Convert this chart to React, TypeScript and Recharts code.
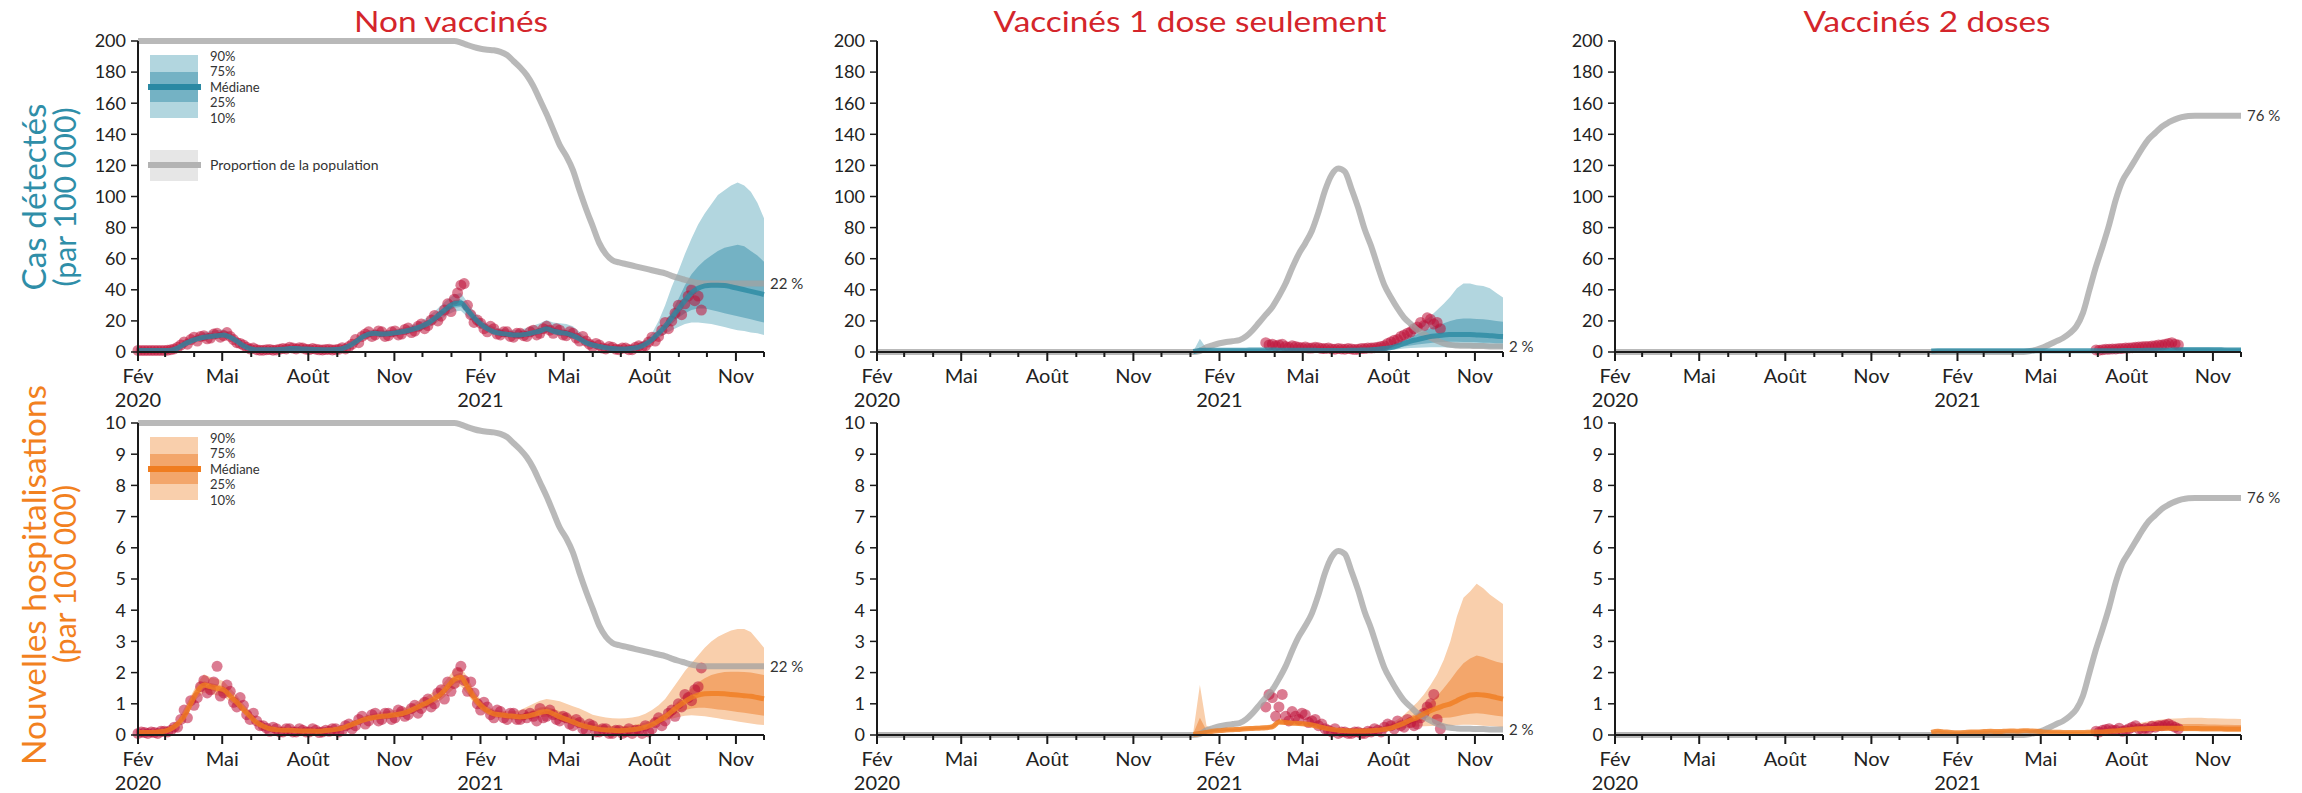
import React from 'react';
import { ComposedChart, Area, Line, Scatter, XAxis, YAxis, LabelList } from 'recharts';

// ---------- categories / axes ----------
const WEEKS = 96; // weekly samples from 1 Feb 2020 to 30 Nov 2021
const LAST_DAY = 669; // days since 1 Feb 2020
const MINOR_TICK_DAYS = [29, 60, 121, 151, 213, 243, 304, 335, 394, 425, 486, 516, 578, 608, 669];
const MONTH_TICK_DAYS = [0, 90, 182, 274, 366, 455, 547, 639];
const MONTH_TICK_LABELS = ['Fév', 'Mai', 'Août', 'Nov', 'Fév', 'Mai', 'Août', 'Nov'];
const YEAR_TICK_DAYS = [0, 366];
const YEAR_TICK_LABELS = ['2020', '2021'];
const CASES_TICKS = [0, 20, 40, 60, 80, 100, 120, 140, 160, 180, 200];
const HOSP_TICKS = [0, 1, 2, 3, 4, 5, 6, 7, 8, 9, 10];
const COLUMN_TITLES = ['Non vaccinés', 'Vaccinés 1 dose seulement', 'Vaccinés 2 doses'];
const POP_LABELS = ['22 %', '2 %', '76 %'];

// ---------- proportion of population (%) ----------
const POP_NON_VAX = [
  100, 100, 100, 100, 100, 100, 100, 100, 100, 100,
  100, 100, 100, 100, 100, 100, 100, 100, 100, 100,
  100, 100, 100, 100, 100, 100, 100, 100, 100, 100,
  100, 100, 100, 100, 100, 100, 100, 100, 100, 100,
  100, 100, 100, 100, 100, 100, 100, 100, 100,
  99.5, 98.7, 98, 97.5, 97.2, 97,
  96.5, 95.5, 93.5, 91.5, 89, 85.5,
  81, 76.5, 71.5, 66.5, 63, 58.5,
  52, 46, 40.5, 35, 31.5, 29.5,
  28.8, 28.3, 27.8, 27.3, 26.8, 26.3,
  25.8, 25.3, 24.5, 23.8, 23.2, 22.6,
  22.2, 22, 22, 22, 22, 22, 22, 22, 22, 22, 22,
];
const POP_DOSE1 = [
  0, 0, 0, 0, 0, 0, 0, 0, 0, 0,
  0, 0, 0, 0, 0, 0, 0, 0, 0, 0,
  0, 0, 0, 0, 0, 0, 0, 0, 0, 0,
  0, 0, 0, 0, 0, 0, 0, 0, 0, 0,
  0, 0, 0, 0, 0, 0, 0, 0, 0,
  0.3, 1.5, 2.2, 2.8, 3.2, 3.5,
  3.8, 5, 7, 9.5, 12, 14.5,
  18, 22, 27, 31.5, 35, 39,
  45, 52, 57, 59, 58, 52.5,
  46.5, 39.5, 34, 27.5, 21.5, 17.5,
  14, 11, 9, 7, 5.8, 4.6,
  3.6, 2.8, 2.3, 2.1, 2, 2, 1.9, 1.9, 1.8, 1.8, 1.8,
];
const POP_DOSE2 = [
  0, 0, 0, 0, 0, 0, 0, 0, 0, 0,
  0, 0, 0, 0, 0, 0, 0, 0, 0, 0,
  0, 0, 0, 0, 0, 0, 0, 0, 0, 0,
  0, 0, 0, 0, 0, 0, 0, 0, 0, 0,
  0, 0, 0, 0, 0, 0, 0, 0, 0, 0,
  0, 0, 0, 0, 0, 0, 0, 0, 0, 0,
  0, 0, 0,
  0.3, 0.8, 1.5, 2.5, 3.5, 4.5, 6, 8.2, 12.5, 20, 27.5, 34, 41, 49, 55, 58.5,
  62, 65.5, 68.5, 70.5, 72.5, 73.8, 74.8, 75.5, 75.9,
  76, 76, 76, 76, 76, 76, 76, 76,
];

// ---------- Non vaccinés : cas détectés (per 100 000) ----------
const NV_CASES_MED = [
  1, 1, 1, 1, 1, 1.2, 2.5, 5, 7, 8.5, 9.5, 10, 10.5, 11, 9.5, 7, 4, 2.2,
  1.5, 1.4, 1.4, 1.5, 1.8, 2.2, 2.3, 2, 1.8, 1.6, 1.5, 1.5, 1.6, 2.2, 3.8, 6.5, 9.5, 11.5,
  12, 11.5, 11.8, 12.3, 13, 13.8, 15, 16.5, 18.5, 21.5, 25, 28.5, 31, 31.5, 27, 22, 18, 15,
  13, 12, 11.5, 11, 11, 11.5, 12.5, 13.5, 15, 13.5, 12.5, 12, 10.5, 8.5, 6, 4.5, 3.5, 2.7,
  2.2, 2, 2, 2.4, 3.2, 5, 8, 12, 16.5, 22, 27.5, 33, 38, 41, 42.5, 43, 43, 42.8,
  42, 41, 40, 39, 38, 37,
];
const NV_CASES_P90 = [
  1.5, 1.5, 1.5, 1.5, 1.5, 2, 3.5, 7, 9.5, 11, 12.5, 13.5, 14, 14.5, 12.5, 9, 5.5, 3,
  2.2, 2, 2, 2.2, 2.5, 3, 3, 2.8, 2.5, 2.2, 2, 2, 2.2, 3, 5, 8.5, 12, 14,
  14.5, 14, 14, 14.5, 15.5, 16.5, 18, 20, 22.5, 26, 30, 34, 37, 38, 32, 26, 21.5, 18,
  16, 15, 14.5, 14, 14.5, 15.5, 17, 18.5, 20.5, 19, 18.5, 18, 16.5, 13, 9, 6.5, 5, 4,
  3.5, 3.2, 3.5, 4.2, 5.5, 8, 12, 20, 30, 42, 52, 63, 73, 82, 89, 95, 101, 104,
  107, 109, 107, 103, 96, 86,
];
const NV_CASES_P75 = [
  1.2, 1.2, 1.2, 1.2, 1.2, 1.4, 2.9, 5.7, 7.8, 9.3, 10.4, 11, 11.5, 12, 10.5, 7.7, 4.5, 2.5,
  1.7, 1.6, 1.6, 1.7, 2, 2.5, 2.6, 2.2, 2, 1.8, 1.7, 1.7, 1.8, 2.5, 4.2, 7.2, 10.4, 12.5,
  13, 12.5, 12.8, 13.3, 14, 15, 16.3, 18, 20, 23.5, 27, 31, 33.5, 34, 29.5, 24, 19.7, 16.5,
  14.2, 13, 12.5, 12, 12, 12.7, 14, 15.3, 17, 15.5, 14.5, 14, 12.5, 10, 7.2, 5.3, 4.2, 3.3,
  2.7, 2.5, 2.5, 3, 4, 6, 9.2, 13.5, 19, 26, 34, 43, 50, 55, 59, 62, 65, 67,
  68, 69, 68, 65, 62, 58,
];
const NV_CASES_P25 = [
  0.8, 0.8, 0.8, 0.8, 0.8, 1, 2.1, 4.3, 6.2, 7.7, 8.6, 9, 9.5, 10, 8.5, 6.3, 3.5, 1.9,
  1.3, 1.2, 1.2, 1.3, 1.6, 1.9, 2, 1.8, 1.6, 1.4, 1.3, 1.3, 1.4, 1.9, 3.4, 5.8, 8.6, 10.5,
  11, 10.5, 10.8, 11.3, 12, 12.6, 13.7, 15, 17, 19.5, 23, 26, 28.5, 29, 24.5, 20, 16.5, 13.8,
  12, 11, 10.5, 10, 10, 10.5, 11.3, 12.2, 13.5, 12.2, 11.3, 10.8, 9.5, 7.6, 5.3, 4, 3.1, 2.4,
  1.9, 1.7, 1.7, 2.1, 2.8, 4.5, 7, 10.5, 14, 18, 22, 25, 27, 28, 28, 27, 26, 25,
  24, 23, 22, 21, 20, 19,
];
const NV_CASES_P10 = [
  0.6, 0.6, 0.6, 0.6, 0.6, 0.8, 1.8, 3.8, 5.5, 7, 7.9, 8.3, 8.8, 9.3, 7.9, 5.8, 3.2, 1.7,
  1.1, 1, 1, 1.1, 1.4, 1.7, 1.8, 1.6, 1.4, 1.2, 1.1, 1.1, 1.2, 1.7, 3, 5.3, 7.9, 9.7,
  10.2, 9.7, 10, 10.4, 11, 11.6, 12.6, 13.8, 15.5, 18, 21, 24, 26, 26.5, 22.5, 18.5, 15.2, 12.7,
  11, 10, 9.7, 9.2, 9.2, 9.7, 10.5, 11.3, 12.5, 11.3, 10.5, 10, 8.8, 7, 4.9, 3.7, 2.8, 2.2,
  1.8, 1.6, 1.6, 1.9, 2.5, 4, 6, 9, 11.5, 14, 16, 18, 19, 19, 18.5, 18, 17, 16,
  15, 14, 13.5, 12.5, 12, 11,
];
const NV_CASES_OBS_A = [
  1, 1, 1, 1, 1, 1.5, 3, 6.5, 8, 7, 10.5, 9, 12, 10.5, 10, 6, 4.5, 2,
  1.5, 1.2, 1.6, 1.3, 2.3, 3, 2, 2.5, 1.6, 1.8, 1.3, 1.7, 1.5, 2.8, 3.5, 8, 10, 13,
  11, 13, 10.5, 13.5, 11.5, 15.5, 13.5, 18, 17, 23.5, 23, 31, 34, 43, 30, 19, 18.5, 13,
  15, 11, 13, 9.5, 12, 10, 14, 12, 16.5, 12, 14, 10.5, 12, 7, 7, 3.5, 4.5, 2,
  3, 1.5, 2.5, 1.5, 4, 4, 9.5, 10, 19, 20, 30, 31, 40, 36,
];
const NV_CASES_OBS_B = [
  1, 1, 1, 1, 1.2, 2, 4.5, 5, 9.5, 10, 8.5, 11.5, 9.5, 12.5, 8, 5.5, 3, 2.5,
  1.2, 1.5, 1.2, 1.8, 2, 2.5, 2.8, 1.8, 2.2, 1.4, 1.6, 1.3, 1.8, 2, 5, 6, 11.5, 10,
  13.5, 10, 13, 11, 14.5, 12.5, 16.5, 15, 20.5, 20, 27, 26, 38, 44, 24, 20.5, 15, 16.5,
  11.5, 13, 10, 12, 10.5, 13, 11, 15, 14, 15, 11, 13, 9, 10, 5, 5.5, 2.5, 3.5,
  1.8, 2.5, 1.5, 3, 3, 6.5, 7, 14, 15, 25, 24, 36, 33, 27,
];

// ---------- Non vaccinés : nouvelles hospitalisations ----------
const NV_HOSP_MED = [
  0.08, 0.08, 0.08, 0.1, 0.12, 0.2, 0.35, 0.6, 1.0, 1.4, 1.6, 1.55, 1.5, 1.45, 1.25, 1.05, 0.82, 0.6,
  0.4, 0.28, 0.2, 0.17, 0.15, 0.15, 0.14, 0.13, 0.13, 0.12, 0.13, 0.15, 0.18, 0.22, 0.3, 0.38, 0.47, 0.53,
  0.57, 0.6, 0.62, 0.65, 0.68, 0.75, 0.85, 0.95, 1.05, 1.17, 1.32, 1.55, 1.78, 1.85, 1.55, 1.2, 0.95, 0.78,
  0.68, 0.65, 0.62, 0.6, 0.58, 0.6, 0.65, 0.72, 0.75, 0.68, 0.58, 0.5, 0.42, 0.33, 0.27, 0.22, 0.18, 0.16,
  0.15, 0.14, 0.15, 0.17, 0.2, 0.25, 0.33, 0.45, 0.58, 0.75, 0.92, 1.07, 1.2, 1.28, 1.32, 1.33, 1.33, 1.32,
  1.3, 1.28, 1.26, 1.24, 1.2, 1.16,
];
const NV_HOSP_P90 = [
  0.12, 0.12, 0.12, 0.14, 0.17, 0.28, 0.45, 0.85, 1.25, 1.65, 1.95, 1.85, 1.8, 1.72, 1.5, 1.27, 1, 0.75,
  0.5, 0.35, 0.27, 0.23, 0.2, 0.2, 0.19, 0.18, 0.18, 0.17, 0.18, 0.2, 0.24, 0.29, 0.38, 0.48, 0.58, 0.66,
  0.7, 0.74, 0.77, 0.8, 0.84, 0.92, 1.03, 1.15, 1.26, 1.4, 1.57, 1.83, 2.1, 2.18, 1.85, 1.43, 1.13, 0.93,
  0.82, 0.78, 0.76, 0.76, 0.8, 0.9, 1.0, 1.1, 1.15, 1.12, 1.08, 1.0, 0.92, 0.85, 0.75, 0.65, 0.6, 0.56,
  0.54, 0.53, 0.54, 0.56, 0.6, 0.68, 0.8, 0.95, 1.15, 1.45, 1.75, 2.05, 2.3, 2.55, 2.8, 3.0, 3.15, 3.25,
  3.35, 3.4, 3.4, 3.3, 3.05, 2.8,
];
const NV_HOSP_P75 = [
  0.1, 0.1, 0.1, 0.12, 0.14, 0.23, 0.39, 0.66, 1.1, 1.5, 1.72, 1.67, 1.62, 1.56, 1.35, 1.14, 0.9, 0.66,
  0.44, 0.31, 0.23, 0.19, 0.17, 0.17, 0.16, 0.15, 0.15, 0.14, 0.15, 0.17, 0.2, 0.25, 0.33, 0.42, 0.52, 0.58,
  0.62, 0.65, 0.68, 0.71, 0.74, 0.81, 0.92, 1.03, 1.13, 1.26, 1.42, 1.67, 1.92, 2.0, 1.67, 1.3, 1.03, 0.85,
  0.74, 0.71, 0.68, 0.66, 0.66, 0.72, 0.8, 0.88, 0.9, 0.84, 0.76, 0.68, 0.6, 0.5, 0.43, 0.37, 0.33, 0.3,
  0.29, 0.28, 0.29, 0.31, 0.35, 0.4, 0.5, 0.6, 0.7, 0.9, 1.1, 1.3, 1.5, 1.68, 1.82, 1.92, 1.98, 2.02,
  2.03, 2.03, 2.02, 2.0, 1.96, 1.92,
];
const NV_HOSP_P25 = [
  0.06, 0.06, 0.06, 0.08, 0.1, 0.17, 0.31, 0.54, 0.92, 1.28, 1.47, 1.43, 1.38, 1.33, 1.15, 0.96, 0.75, 0.55,
  0.36, 0.25, 0.18, 0.15, 0.13, 0.13, 0.12, 0.11, 0.11, 0.1, 0.11, 0.13, 0.16, 0.2, 0.27, 0.34, 0.43, 0.49,
  0.52, 0.55, 0.57, 0.6, 0.62, 0.69, 0.78, 0.87, 0.97, 1.08, 1.22, 1.43, 1.64, 1.7, 1.43, 1.1, 0.87, 0.71,
  0.62, 0.59, 0.56, 0.54, 0.52, 0.54, 0.58, 0.64, 0.66, 0.6, 0.51, 0.44, 0.37, 0.29, 0.23, 0.19, 0.15, 0.13,
  0.12, 0.11, 0.12, 0.14, 0.17, 0.21, 0.28, 0.38, 0.5, 0.62, 0.72, 0.8, 0.85, 0.87, 0.87, 0.85, 0.82, 0.8,
  0.77, 0.74, 0.71, 0.68, 0.65, 0.62,
];
const NV_HOSP_P10 = [
  0.05, 0.05, 0.05, 0.07, 0.09, 0.15, 0.28, 0.5, 0.85, 1.18, 1.36, 1.32, 1.27, 1.23, 1.06, 0.89, 0.7, 0.5,
  0.33, 0.23, 0.16, 0.13, 0.12, 0.12, 0.11, 0.1, 0.1, 0.09, 0.1, 0.12, 0.14, 0.18, 0.25, 0.31, 0.39, 0.45,
  0.48, 0.5, 0.52, 0.55, 0.57, 0.63, 0.72, 0.8, 0.89, 0.99, 1.12, 1.31, 1.5, 1.56, 1.31, 1.01, 0.8, 0.65,
  0.57, 0.54, 0.51, 0.49, 0.47, 0.49, 0.52, 0.57, 0.59, 0.53, 0.45, 0.38, 0.31, 0.23, 0.18, 0.14, 0.11, 0.1,
  0.09, 0.08, 0.09, 0.11, 0.14, 0.18, 0.25, 0.34, 0.45, 0.52, 0.58, 0.62, 0.63, 0.62, 0.6, 0.57, 0.54, 0.5,
  0.47, 0.43, 0.4, 0.37, 0.34, 0.32,
];
const NV_HOSP_OBS_A = [
  0.05, 0.08, 0.1, 0.05, 0.12, 0.15, 0.25, 0.8, 1.1, 1.2, 1.75, 1.45, 2.2, 1.35, 1.4, 0.9, 0.95, 0.5,
  0.45, 0.3, 0.12, 0.2, 0.1, 0.2, 0.1, 0.15, 0.1, 0.15, 0.1, 0.12, 0.2, 0.15, 0.35, 0.3, 0.6, 0.45,
  0.7, 0.5, 0.7, 0.55, 0.75, 0.65, 0.95, 0.85, 1.15, 1.0, 1.45, 1.7, 1.65, 2.2, 1.4, 1.35, 0.8, 0.9,
  0.55, 0.75, 0.5, 0.7, 0.5, 0.55, 0.6, 0.85, 0.6, 0.65, 0.45, 0.55, 0.3, 0.4, 0.15, 0.3, 0.1, 0.2,
  0.05, 0.15, 0.1, 0.05, 0.15, 0.3, 0.2, 0.55, 0.45, 0.8, 1.0, 1.3, 1.1, 1.55,
];
const NV_HOSP_OBS_B = [
  0.1, 0.05, 0.08, 0.12, 0.1, 0.25, 0.5, 0.55, 0.95, 1.55, 1.35, 1.7, 1.25, 1.6, 1.05, 1.2, 0.65, 0.7,
  0.3, 0.22, 0.25, 0.1, 0.2, 0.1, 0.2, 0.1, 0.2, 0.08, 0.15, 0.2, 0.1, 0.3, 0.2, 0.5, 0.35, 0.65,
  0.45, 0.7, 0.5, 0.8, 0.6, 0.85, 0.7, 1.05, 0.9, 1.35, 1.15, 1.4, 2.0, 1.75, 1.7, 1.0, 1.05, 0.65,
  0.8, 0.55, 0.7, 0.5, 0.65, 0.7, 0.45, 0.55, 0.8, 0.5, 0.6, 0.35, 0.5, 0.2, 0.35, 0.1, 0.2, 0.05,
  0.15, 0.05, 0.2, 0.15, 0.05, 0.1, 0.4, 0.3, 0.7, 0.6, 0.9, 1.2, 1.45, 2.15,
];

// ---------- Vaccinés 1 dose : cas (model from week 48) ----------
const V1_CASES_MED = [
  0.3, 1, 1.2, 1.2, 1.1, 1.1, 1.1, 1.2, 1.2, 1.3, 1.3, 1.3, 1.3, 1.2, 1.2, 1.2, 1.1, 1.1, 1.1, 1,
  1, 1, 1, 1, 1.1, 1.2, 1.3, 1.5, 1.8, 2.2, 2.8, 4, 5.5, 7, 8, 9, 10, 10.5, 11, 11.2,
  11.3, 11.3, 11.2, 11, 10.8, 10.5, 10.2, 10,
];
const V1_CASES_P90 = [
  0.5, 8.5, 2.2, 1.8, 1.8, 1.8, 1.9, 1.9, 2, 2, 2, 2, 1.9, 1.9, 1.8, 1.8, 1.8, 1.7, 1.7, 1.7,
  1.7, 1.7, 1.7, 1.7, 1.8, 1.9, 2.1, 2.4, 3, 3.8, 5, 7, 9, 12, 17, 20, 23, 27, 31, 35.5,
  41, 44, 44, 43, 42.5, 41, 38, 35,
];
const V1_CASES_P75 = [
  0.4, 3, 1.6, 1.5, 1.5, 1.5, 1.5, 1.5, 1.6, 1.6, 1.6, 1.6, 1.6, 1.5, 1.5, 1.5, 1.4, 1.4, 1.4, 1.4,
  1.3, 1.3, 1.3, 1.3, 1.4, 1.5, 1.6, 1.9, 2.3, 2.8, 3.8, 5.5, 7.5, 9.5, 11.5, 13.5, 15.5, 17, 18.5, 20,
  21, 21.5, 21.5, 21.3, 21, 20.5, 20, 19.5,
];
const V1_CASES_P25 = [
  0.2, 0.6, 0.9, 0.9, 0.9, 0.9, 0.9, 0.9, 0.9, 0.9, 0.9, 0.9, 0.9, 0.9, 0.9, 0.9, 0.8, 0.8, 0.8, 0.8,
  0.8, 0.8, 0.8, 0.8, 0.8, 0.9, 0.9, 1, 1.2, 1.5, 2, 2.8, 3.5, 4.2, 4.8, 5.3, 5.8, 6.2, 6.5, 6.6,
  6.6, 6.5, 6.4, 6.2, 6, 5.9, 5.7, 5.6,
];
const V1_CASES_P10 = [
  0.1, 0.4, 0.6, 0.6, 0.6, 0.6, 0.6, 0.6, 0.6, 0.6, 0.6, 0.6, 0.6, 0.6, 0.6, 0.6, 0.5, 0.5, 0.5, 0.5,
  0.5, 0.5, 0.5, 0.5, 0.5, 0.6, 0.6, 0.7, 0.8, 1, 1.4, 1.8, 2.2, 2.5, 2.7, 2.9, 3, 3, 3, 2.9,
  2.8, 2.7, 2.6, 2.5, 2.4, 2.3, 2.2, 2.1,
];
const V1_CASES_OBS_A = [
  6, 5, 4.5, 3.5, 4, 3, 3.2, 2.5, 2.8, 2.2, 2, 2.2, 1.8, 2, 1.8, 2.2, 2.5, 3, 4, 6.5,
  8, 11, 13, 16, 17, 21, 19,
];
const V1_CASES_OBS_B = [
  4.5, 4, 5, 3, 3.5, 2.8, 2.5, 3, 2.2, 2.5, 1.8, 2, 2.2, 1.6, 2.3, 2.6, 2.8, 3.6, 5.5, 7.5,
  10, 12, 15, 19, 22, 18, 15,
];

// ---------- Vaccinés 1 dose : hospitalisations ----------
const V1_HOSP_MED = [
  0.02, 0.05, 0.08, 0.12, 0.14, 0.16, 0.17, 0.18, 0.2, 0.21, 0.22, 0.23,
  0.26, 0.42, 0.4, 0.38, 0.37, 0.35, 0.32, 0.27, 0.22, 0.18,
  0.15, 0.14, 0.13, 0.13, 0.13, 0.14, 0.15, 0.18, 0.22, 0.3,
  0.38, 0.48, 0.56, 0.68, 0.78, 0.86, 0.94, 1.0, 1.1, 1.2,
  1.28, 1.3, 1.28, 1.25, 1.2, 1.15,
];
const V1_HOSP_P90 = [
  0.1, 1.6, 0.3, 0.2, 0.22, 0.24, 0.25, 0.26, 0.28, 0.29, 0.3, 0.31,
  0.35, 0.52, 0.5, 0.48, 0.46, 0.43, 0.4, 0.35, 0.3, 0.25,
  0.22, 0.2, 0.2, 0.2, 0.2, 0.22, 0.25, 0.3, 0.38, 0.5,
  0.65, 0.85, 1.05, 1.3, 1.6, 1.95, 2.4, 3.0, 3.8, 4.4,
  4.6, 4.85, 4.7, 4.5, 4.35, 4.2,
];
const V1_HOSP_P75 = [
  0.05, 0.55, 0.15, 0.15, 0.17, 0.19, 0.2, 0.21, 0.23, 0.24, 0.25, 0.26,
  0.3, 0.46, 0.44, 0.42, 0.41, 0.39, 0.36, 0.31, 0.26, 0.21,
  0.18, 0.17, 0.16, 0.16, 0.16, 0.17, 0.19, 0.23, 0.28, 0.38,
  0.48, 0.6, 0.72, 0.88, 1.05, 1.25, 1.5, 1.76, 2.05, 2.3,
  2.45, 2.55, 2.5, 2.42, 2.35, 2.3,
];
const V1_HOSP_P25 = [
  0, 0.02, 0.06, 0.1, 0.12, 0.13, 0.14, 0.15, 0.17, 0.18, 0.19, 0.2,
  0.22, 0.37, 0.35, 0.34, 0.33, 0.31, 0.28, 0.23, 0.19, 0.15,
  0.12, 0.11, 0.11, 0.11, 0.11, 0.12, 0.13, 0.15, 0.18, 0.24,
  0.3, 0.37, 0.42, 0.47, 0.5, 0.52, 0.55, 0.56, 0.6, 0.65,
  0.68, 0.7, 0.68, 0.65, 0.62, 0.59,
];
const V1_HOSP_P10 = [
  0, 0.01, 0.05, 0.08, 0.1, 0.11, 0.12, 0.13, 0.15, 0.16, 0.17, 0.18,
  0.2, 0.34, 0.32, 0.31, 0.3, 0.28, 0.25, 0.21, 0.17, 0.13,
  0.11, 0.1, 0.1, 0.1, 0.1, 0.1, 0.11, 0.13, 0.15, 0.19,
  0.22, 0.25, 0.27, 0.28, 0.29, 0.3, 0.3, 0.3, 0.32, 0.33,
  0.33, 0.32, 0.3, 0.29, 0.27, 0.25,
];
const V1_HOSP_OBS_A = [
  0.9, 1.2, 0.9, 0.6, 0.75, 0.5, 0.65, 0.45, 0.3, 0.2, 0.1, 0.05, 0.1, 0.05, 0.1, 0.05, 0.1, 0.15, 0.25, 0.3,
  0.45, 0.25, 0.4, 0.35, 0.7, 1.0, 0.5,
];
const V1_HOSP_OBS_B = [
  1.3, 0.6, 1.3, 0.45, 0.6, 0.7, 0.4, 0.5, 0.35, 0.15, 0.2, 0.1, 0.05, 0.1, 0.05, 0.12, 0.2, 0.1, 0.35, 0.2,
  0.3, 0.5, 0.3, 0.55, 0.9, 1.3, 0.2,
];

// ---------- Vaccinés 2 doses : cas ----------
const V2_CASES_MED = [
  0.6, 0.8, 0.8, 0.8, 0.8, 0.8, 0.8, 0.8, 0.8, 0.8, 0.8, 0.8, 0.8, 0.8, 0.8, 0.8, 0.8, 0.8,
  0.8, 0.8, 0.8, 0.8, 0.8, 0.8, 0.8, 0.8, 0.8, 0.8, 0.8, 0.9, 0.9, 1, 1, 1.1, 1.1, 1.2,
  1.2, 1.3, 1.4, 1.4, 1.4, 1.4, 1.4, 1.4, 1.4, 1.3, 1.3, 1.3,
];
const V2_CASES_P90 = [
  1, 1.3, 1.3, 1.3, 1.3, 1.3, 1.3, 1.3, 1.3, 1.3, 1.3, 1.3, 1.3, 1.3, 1.3, 1.3, 1.3, 1.3,
  1.3, 1.3, 1.3, 1.3, 1.3, 1.3, 1.3, 1.3, 1.4, 1.4, 1.5, 1.6, 1.7, 1.9, 2, 2.2, 2.3, 2.5,
  2.8, 3, 3, 3, 3, 3, 3, 2.9, 2.9, 2.8, 2.8, 2.8,
];
const V2_CASES_P75 = [
  0.8, 1, 1, 1, 1, 1, 1, 1, 1, 1, 1, 1, 1, 1, 1, 1, 1, 1,
  1, 1, 1, 1, 1, 1, 1, 1, 1.05, 1.1, 1.1, 1.2, 1.3, 1.4, 1.5, 1.6, 1.7, 1.8,
  1.9, 2.1, 2.2, 2.2, 2.2, 2.2, 2.2, 2.1, 2.1, 2, 2, 2,
];
const V2_CASES_P25 = [
  0.4, 0.6, 0.6, 0.6, 0.6, 0.6, 0.6, 0.6, 0.6, 0.6, 0.6, 0.6, 0.6, 0.6, 0.6, 0.6, 0.6, 0.6,
  0.6, 0.6, 0.6, 0.6, 0.6, 0.6, 0.6, 0.6, 0.6, 0.65, 0.7, 0.75, 0.8, 0.85, 0.9, 0.9, 0.95, 1,
  1, 1, 1, 1, 1, 1, 1, 1, 1, 0.95, 0.95, 0.95,
];
const V2_CASES_P10 = [
  0.3, 0.4, 0.4, 0.4, 0.4, 0.4, 0.4, 0.4, 0.4, 0.4, 0.4, 0.4, 0.4, 0.4, 0.4, 0.4, 0.4, 0.4,
  0.4, 0.4, 0.4, 0.4, 0.4, 0.4, 0.4, 0.4, 0.4, 0.45, 0.5, 0.5, 0.55, 0.6, 0.6, 0.6, 0.65, 0.7,
  0.7, 0.7, 0.7, 0.7, 0.7, 0.7, 0.7, 0.7, 0.7, 0.65, 0.65, 0.65,
];
const V2_CASES_OBS_A = [1.3, 1.5, 1.8, 2, 2.3, 2.6, 3, 3.3, 3.6, 4, 4.5, 5.5, 5];
const V2_CASES_OBS_B = [1.2, 1.7, 2, 2.2, 2.6, 2.8, 3.2, 3.6, 3.8, 4.5, 5, 6, 4.5];

// ---------- Vaccinés 2 doses : hospitalisations ----------
const V2_HOSP_MED = [
  0.08, 0.12, 0.1, 0.08, 0.07, 0.08, 0.1, 0.1, 0.11, 0.12, 0.11, 0.12,
  0.13, 0.12, 0.14, 0.13, 0.12, 0.1, 0.09, 0.09, 0.08, 0.08, 0.08, 0.08,
  0.09, 0.1, 0.1, 0.12, 0.13, 0.15, 0.17, 0.19, 0.2, 0.21, 0.21, 0.22,
  0.22, 0.22, 0.21, 0.21, 0.21, 0.2, 0.2, 0.2, 0.2, 0.19, 0.19, 0.19,
];
const V2_HOSP_P90 = [
  0.13, 0.17, 0.15, 0.13, 0.12, 0.13, 0.15, 0.15, 0.16, 0.17, 0.16, 0.17,
  0.18, 0.17, 0.19, 0.18, 0.17, 0.15, 0.14, 0.14, 0.13, 0.13, 0.13, 0.13,
  0.14, 0.15, 0.16, 0.2, 0.22, 0.25, 0.3, 0.35, 0.4, 0.44, 0.47, 0.5,
  0.52, 0.53, 0.54, 0.55, 0.55, 0.55, 0.54, 0.54, 0.53, 0.52, 0.52, 0.51,
];
const V2_HOSP_P75 = [
  0.1, 0.14, 0.12, 0.1, 0.09, 0.1, 0.12, 0.12, 0.13, 0.14, 0.13, 0.14,
  0.15, 0.14, 0.16, 0.15, 0.14, 0.12, 0.11, 0.11, 0.1, 0.1, 0.1, 0.1,
  0.11, 0.12, 0.12, 0.15, 0.17, 0.2, 0.23, 0.26, 0.28, 0.3, 0.32, 0.33,
  0.34, 0.35, 0.35, 0.35, 0.35, 0.35, 0.34, 0.34, 0.33, 0.33, 0.32, 0.32,
];
const V2_HOSP_P25 = [
  0.06, 0.1, 0.08, 0.06, 0.05, 0.06, 0.08, 0.08, 0.09, 0.1, 0.09, 0.1,
  0.11, 0.1, 0.12, 0.11, 0.1, 0.08, 0.07, 0.07, 0.06, 0.06, 0.06, 0.06,
  0.07, 0.08, 0.08, 0.1, 0.11, 0.12, 0.14, 0.15, 0.16, 0.16, 0.16, 0.17,
  0.17, 0.17, 0.16, 0.16, 0.16, 0.15, 0.15, 0.15, 0.15, 0.14, 0.14, 0.14,
];
const V2_HOSP_P10 = [
  0.05, 0.08, 0.07, 0.05, 0.04, 0.05, 0.07, 0.07, 0.08, 0.08, 0.08, 0.08,
  0.09, 0.08, 0.1, 0.09, 0.08, 0.07, 0.06, 0.06, 0.05, 0.05, 0.05, 0.05,
  0.06, 0.07, 0.07, 0.08, 0.09, 0.1, 0.11, 0.12, 0.12, 0.12, 0.12, 0.13,
  0.13, 0.13, 0.12, 0.12, 0.12, 0.11, 0.11, 0.11, 0.11, 0.1, 0.1, 0.1,
];
const V2_HOSP_OBS_A = [0.12, 0.15, 0.2, 0.15, 0.12, 0.2, 0.3, 0.18, 0.2, 0.25, 0.3, 0.35, 0.25];
const V2_HOSP_OBS_B = [0.1, 0.18, 0.15, 0.22, 0.15, 0.25, 0.2, 0.22, 0.28, 0.3, 0.32, 0.3, 0.2];

// ---------- styling ----------
const FONT = "Lato, 'Open Sans', 'DejaVu Sans', sans-serif";
const TEAL = { light: '#b2d6df', mid: '#74b2c4', med: '#2a89a3' };
const ORANGE = { light: '#f9cfac', mid: '#f3a66b', med: '#f07d20' };
const DOT_COLOR = '#bd1038';
const TITLE_RED = '#d4252b';

const YW = 70;
const MT = 15;
const MR = 60;
const XH = 70;
const PW = 626;
const COL_LEFT = [138, 877, 1615];
const ROW_TOP = [41, 423];
const ROW_H = [311, 312];

type PanelData = {
  med: number[]; p10: number[]; p25: number[]; p75: number[]; p90: number[];
  start: number; obsA: number[]; obsB: number[]; obsStart: number;
  pop: number[]; popLabel: string;
};

const dayOf = (i: number) => (i * LAST_DAY) / (WEEKS - 1);

function buildRows(p: PanelData, popScale: number) {
  const rows: any[] = [];
  for (let i = 0; i < WEEKS; i++) {
    const k = i - p.start;
    const has = k >= 0 && k < p.med.length;
    rows.push({
      day: dayOf(i),
      band90: has ? [p.p10[k], p.p90[k]] : null,
      band50: has ? [p.p25[k], p.p75[k]] : null,
      med: has ? p.med[k] : null,
      pop: p.pop[i] * popScale,
      popLabel: i === WEEKS - 1 ? p.popLabel : undefined,
    });
  }
  return rows;
}

function buildObs(p: PanelData) {
  const out: any[] = [];
  p.obsA.forEach((v, k) => out.push({ day: dayOf(p.obsStart + k), v }));
  p.obsB.forEach((v, k) => out.push({ day: dayOf(p.obsStart + k) + 3.5, v }));
  return out;
}

const PANELS: { data: PanelData; row: number; col: number }[] = [
  { row: 0, col: 0, data: { med: NV_CASES_MED, p10: NV_CASES_P10, p25: NV_CASES_P25, p75: NV_CASES_P75, p90: NV_CASES_P90, start: 0, obsA: NV_CASES_OBS_A, obsB: NV_CASES_OBS_B, obsStart: 0, pop: POP_NON_VAX, popLabel: POP_LABELS[0] } },
  { row: 0, col: 1, data: { med: V1_CASES_MED, p10: V1_CASES_P10, p25: V1_CASES_P25, p75: V1_CASES_P75, p90: V1_CASES_P90, start: 48, obsA: V1_CASES_OBS_A, obsB: V1_CASES_OBS_B, obsStart: 59, pop: POP_DOSE1, popLabel: POP_LABELS[1] } },
  { row: 0, col: 2, data: { med: V2_CASES_MED, p10: V2_CASES_P10, p25: V2_CASES_P25, p75: V2_CASES_P75, p90: V2_CASES_P90, start: 48, obsA: V2_CASES_OBS_A, obsB: V2_CASES_OBS_B, obsStart: 73, pop: POP_DOSE2, popLabel: POP_LABELS[2] } },
  { row: 1, col: 0, data: { med: NV_HOSP_MED, p10: NV_HOSP_P10, p25: NV_HOSP_P25, p75: NV_HOSP_P75, p90: NV_HOSP_P90, start: 0, obsA: NV_HOSP_OBS_A, obsB: NV_HOSP_OBS_B, obsStart: 0, pop: POP_NON_VAX, popLabel: POP_LABELS[0] } },
  { row: 1, col: 1, data: { med: V1_HOSP_MED, p10: V1_HOSP_P10, p25: V1_HOSP_P25, p75: V1_HOSP_P75, p90: V1_HOSP_P90, start: 48, obsA: V1_HOSP_OBS_A, obsB: V1_HOSP_OBS_B, obsStart: 59, pop: POP_DOSE1, popLabel: POP_LABELS[1] } },
  { row: 1, col: 2, data: { med: V2_HOSP_MED, p10: V2_HOSP_P10, p25: V2_HOSP_P25, p75: V2_HOSP_P75, p90: V2_HOSP_P90, start: 48, obsA: V2_HOSP_OBS_A, obsB: V2_HOSP_OBS_B, obsStart: 73, pop: POP_DOSE2, popLabel: POP_LABELS[2] } },
];

const ALL_TICKS = [...MONTH_TICK_DAYS, ...MINOR_TICK_DAYS].sort((a, b) => a - b);

function MonthTick(props: any) {
  const { x, y, payload } = props;
  const v = payload.value;
  const mi = MONTH_TICK_DAYS.indexOf(v);
  const yi = YEAR_TICK_DAYS.indexOf(v);
  return (
    <g>
      <line x1={x} x2={x} y1={y} y2={y + (mi >= 0 ? 9 : 5)} stroke="#1a1a1a" strokeWidth={2} />
      {mi >= 0 && (
        <text x={x} y={y + 31} textAnchor="middle" fontSize={20} fill="#222" fontFamily={FONT}>
          {MONTH_TICK_LABELS[mi]}
        </text>
      )}
      {yi >= 0 && (
        <text x={x} y={y + 55} textAnchor="middle" fontSize={20} fill="#222" fontFamily={FONT}>
          {YEAR_TICK_LABELS[yi]}
        </text>
      )}
    </g>
  );
}

const DotShape = (props: any) => (
  <circle cx={props.cx} cy={props.cy} r={5.5} fill={DOT_COLOR} fillOpacity={0.55} />
);

function Panel({ data, row, col }: { data: PanelData; row: number; col: number }) {
  const isCases = row === 0;
  const rows = buildRows(data, isCases ? 2 : 0.1);
  const obs = buildObs(data);
  const colors = isCases ? TEAL : ORANGE;
  const plotH = ROW_H[row];
  return (
    <div style={{ position: 'absolute', left: COL_LEFT[col] - YW, top: ROW_TOP[row] - MT }}>
      <ComposedChart
        width={YW + PW + MR}
        height={MT + plotH + XH}
        data={rows}
        margin={{ top: MT, right: MR, bottom: 0, left: 0 }}
      >
        <XAxis
          type="number"
          dataKey="day"
          domain={[0, LAST_DAY]}
          ticks={ALL_TICKS}
          interval={0}
          tick={<MonthTick />}
          tickLine={false}
          tickSize={0}
          tickMargin={0}
          axisLine={{ stroke: '#1a1a1a', strokeWidth: 2 }}
          height={XH}
        />
        <YAxis
          type="number"
          domain={[0, isCases ? 200 : 10]}
          ticks={isCases ? CASES_TICKS : HOSP_TICKS}
          interval={0}
          width={YW}
          tickSize={7}
          tickMargin={5}
          tick={{ fontSize: 18, fill: '#222', fontFamily: FONT }}
          tickLine={{ stroke: '#1a1a1a', strokeWidth: 1.5 }}
          axisLine={{ stroke: '#1a1a1a', strokeWidth: 2 }}
        />
        <Area type="linear" dataKey="band90" fill={colors.light} fillOpacity={1} stroke="none" isAnimationActive={false} />
        <Area type="linear" dataKey="band50" fill={colors.mid} fillOpacity={1} stroke="none" isAnimationActive={false} />
        <Line
          type="monotone"
          dataKey="pop"
          stroke="#a2a2a2"
          strokeOpacity={0.75}
          strokeWidth={6}
          dot={false}
          activeDot={false}
          isAnimationActive={false}
        >
          <LabelList dataKey="popLabel" position="right" offset={6} fontSize={15} fill="#333" fontFamily={FONT} />
        </Line>
        <Scatter data={obs} dataKey="v" shape={DotShape} isAnimationActive={false} zIndex={350} />
        <Line
          type="monotone"
          dataKey="med"
          stroke={colors.med}
          strokeOpacity={0.8}
          strokeWidth={5}
          dot={false}
          activeDot={false}
          isAnimationActive={false}
          zIndex={450}
        />
      </ComposedChart>
    </div>
  );
}

function Legend({ top, colors, withPop }: { top: number; colors: any; withPop: boolean }) {
  const labels = ['90%', '75%', 'Médiane', '25%', '10%'];
  return (
    <g fontFamily={FONT}>
      <rect x={150} y={top} width={48} height={63} fill={colors.light} />
      <rect x={150} y={top + 17} width={48} height={30} fill={colors.mid} />
      <line x1={148} x2={201} y1={top + 32} y2={top + 32} stroke={colors.med} strokeWidth={6} />
      {labels.map((l, k) => (
        <text key={l} x={210} y={top + 1 + k * 15.5} dy={4.5} fontSize={13} fill="#333">
          {l}
        </text>
      ))}
      {withPop && (
        <g>
          <rect x={150} y={top + 95} width={48} height={31} fill="#e6e6e6" />
          <line x1={148} x2={201} y1={top + 110} y2={top + 110} stroke="#b3b3b3" strokeWidth={6} />
          <text x={210} y={top + 110} dy={5} fontSize={14} fill="#333">
            Proportion de la population
          </text>
        </g>
      )}
    </g>
  );
}

export default function App() {
  const titleX = [451, 1190, 1927];
  const titleLen = [194, 393, 247];
  return (
    <div style={{ position: 'absolute', left: 0, top: 0, width: 2302, height: 793, background: '#fff', overflow: 'hidden' }}>
      {PANELS.map((p, k) => (
        <Panel key={k} data={p.data} row={p.row} col={p.col} />
      ))}
      <svg width={2302} height={793} style={{ position: 'absolute', left: 0, top: 0, pointerEvents: 'none' }}>
        {COLUMN_TITLES.map((t, k) => (
          <text
            key={t}
            x={titleX[k]}
            y={32}
            textAnchor="middle"
            fontSize={28}
            fill={TITLE_RED}
            fontFamily={FONT}
            textLength={titleLen[k]}
            lengthAdjust="spacingAndGlyphs"
          >
            {t}
          </text>
        ))}
        <g fontFamily={FONT}>
          <text transform="translate(46,197) rotate(-90)" textAnchor="middle" fontSize={32} fill="#2f8ea8" textLength={187} lengthAdjust="spacingAndGlyphs">
            Cas détectés
          </text>
          <text transform="translate(76,197) rotate(-90)" textAnchor="middle" fontSize={30} fill="#2f8ea8" textLength={179} lengthAdjust="spacingAndGlyphs">
            (par 100 000)
          </text>
          <text transform="translate(46,575) rotate(-90)" textAnchor="middle" fontSize={32} fill="#f2811f" textLength={380} lengthAdjust="spacingAndGlyphs">
            Nouvelles hospitalisations
          </text>
          <text transform="translate(76,574) rotate(-90)" textAnchor="middle" fontSize={30} fill="#f2811f" textLength={178} lengthAdjust="spacingAndGlyphs">
            (par 100 000)
          </text>
        </g>
        <Legend top={55} colors={TEAL} withPop={true} />
        <Legend top={437} colors={ORANGE} withPop={false} />
      </svg>
    </div>
  );
}
